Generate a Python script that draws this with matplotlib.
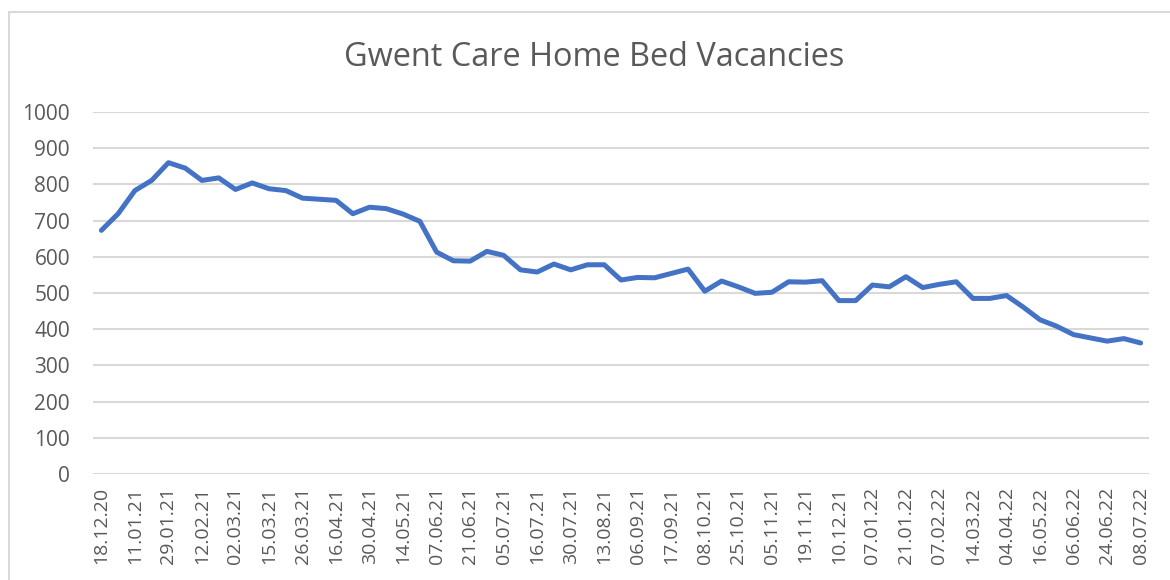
#
# Gwent care home bed vacancies - line chart
#

import numpy as np
import matplotlib
matplotlib.use('Agg')
from matplotlib import pyplot as plt
from matplotlib.patches import Rectangle

plt.rcParams['font.family'] = ['Open Sans', 'DejaVu Sans']

# ============================== data =====================================

vacancies = [673, 719, 783, 811, 860, 845, 811, 818, 786, 804,
             788, 783, 762, 759, 756, 719, 737, 733, 718, 698,
             613, 589, 588, 615, 604, 564, 558, 580, 564, 578,
             578, 536, 543, 542, 554, 566, 505, 533, 517, 499,
             502, 531, 530, 534, 479, 479, 522, 517, 545, 515,
             524, 531, 485, 485, 493, 461, 426, 408, 385, 376,
             367, 374, 362]

date_labels = ['18.12.20', '11.01.21', '29.01.21', '12.02.21', '02.03.21',
               '15.03.21', '26.03.21', '16.04.21', '30.04.21', '14.05.21',
               '07.06.21', '21.06.21', '05.07.21', '16.07.21', '30.07.21',
               '13.08.21', '06.09.21', '17.09.21', '08.10.21', '25.10.21',
               '05.11.21', '19.11.21', '10.12.21', '07.01.22', '21.01.22',
               '07.02.22', '14.03.22', '04.04.22', '16.05.22', '06.06.22',
               '24.06.22', '08.07.22']

y_ticks = list(range(0, 1001, 100))

title = 'Gwent Care Home Bed Vacancies'

# ============================= plotting ==================================

txt = '#595959'
grid = '#d9d9d9'

fig = plt.figure(figsize=(11.7, 5.8), dpi=100)
fig.patches.append(Rectangle((9/1170, -0.1), 1.2, 1 - 12/580 + 0.1,
                             transform=fig.transFigure, fill=False,
                             edgecolor=grid, linewidth=1.5))

ax = fig.add_axes([93/1170, 1 - 474/580, (1149 - 93)/1170, (474 - 112)/580])

x = np.arange(len(vacancies))
ax.plot(x, vacancies, color='#4472C4', linewidth=3.6,
        solid_joinstyle='round', solid_capstyle='round', zorder=3)

ax.set_xlim(-0.5, len(vacancies) - 0.5)
ax.set_ylim(0, 1000)
ax.set_yticks(y_ticks)
ax.set_yticklabels([str(v) for v in y_ticks])
ax.set_xticks(x[::2])
ax.set_xticklabels(date_labels, rotation=90)

ax.grid(axis='y', color=grid, linewidth=1.5)
ax.set_axisbelow(True)
for s in ax.spines.values():
  s.set_visible(False)
ax.tick_params(axis='both', length=0, labelsize=14, colors=txt)
ax.tick_params(axis='x', pad=9)
ax.tick_params(axis='y', pad=16.5, labelsize=15)

fig.text(594/1170, 1 - 58/580, title, ha='center', va='center',
         fontsize=23.4, color=txt)

fig.savefig('out.png', dpi=100)
